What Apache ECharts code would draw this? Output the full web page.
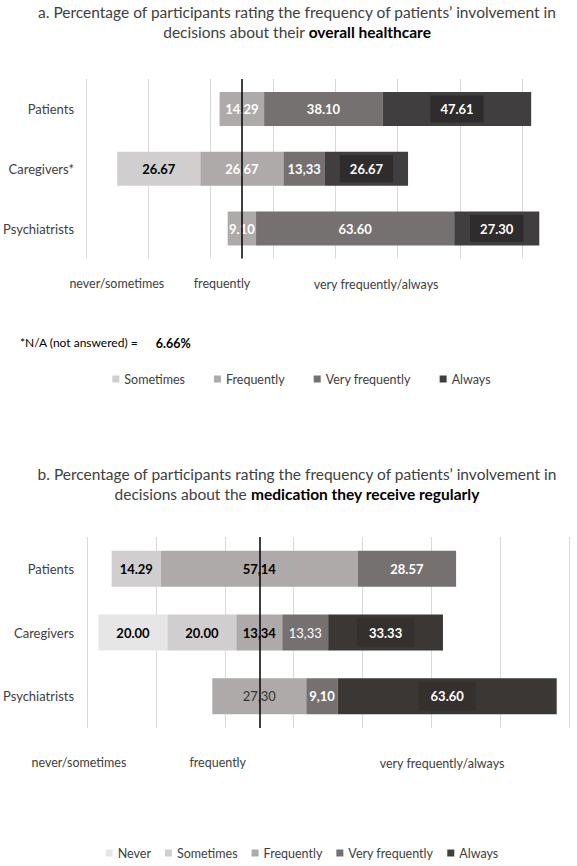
<!DOCTYPE html>
<html>
<head>
<meta charset="utf-8">
<script src="https://cdn.jsdelivr.net/npm/echarts@6/dist/echarts.min.js"></script>
<style>
html,body{margin:0;padding:0;background:#fff;}
#chart{width:577px;height:866px;}
</style>
</head>
<body>
<div id="chart"></div>
<script>
// ---------- data ----------
const categoriesA = ['Patients', 'Caregivers*', 'Psychiatrists'];
const aSometimes      = [null, 26.67, null];
const aFrequently     = [14.29, 26.67, 9.10];
const aVeryFrequently = [38.10, 13.33, 63.60];
const aAlways         = [47.61, 26.67, 27.30];
const aSometimesText      = ['', '26.67', ''];
const aFrequentlyText     = ['14.29', '26,67', '9.10'];
const aVeryFrequentlyText = ['38.10', '13,33', '63.60'];
const aAlwaysText         = ['47.61', '26.67', '27.30'];

const categoriesB = ['Patients', 'Caregivers', 'Psychiatrists'];
const bNever          = [null, 20.00, null];
const bSometimes      = [14.29, 20.00, null];
const bFrequently     = [57.14, 13.34, 27.30];
const bVeryFrequently = [28.57, 13.33, 9.10];
const bAlways         = [null, 33.33, 63.60];
const bNeverText          = ['', '20.00', ''];
const bSometimesText      = ['14.29', '20.00', ''];
const bFrequentlyText     = ['57,14', '13,34', '27,30'];
const bVeryFrequentlyText = ['28.57', '13,33', '9,10'];
const bAlwaysText         = ['', '33.33', '63.60'];

const centreValue = 50;          // the "frequently" midpoint marked by the vertical line
const axisMaxA = 150, axisMaxB = 140, axisStep = 20;

const scaleLabels = ['never/sometimes', 'frequently', 'very frequently/always'];
const naNote = '*N/A (not answered) =';
const naValue = '6.66%';

// ---------- helpers ----------
const FONT = 'Lato, "Open Sans", sans-serif';
const C = {
  never: '#E7E6E6', sometimes: '#D0CECE', frequently: '#AEAAAA',
  very: '#767171', alwaysA: '#403E3E', alwaysB: '#3B3735'
};
const n = v => (v == null ? 0 : v);
function offsets(nev, som, fre) {
  return fre.map((f, i) => +(centreValue - n(nev ? nev[i] : 0) - n(som[i]) - n(f) / 2).toFixed(3));
}
function seg(name, values, texts, color, stack, axisIdx, barW, labelColor, extra) {
  return {
    name, type: 'bar', stack, xAxisIndex: axisIdx, yAxisIndex: axisIdx,
    barWidth: barW, itemStyle: { color },
    data: values.map((v, i) => {
      const d = { value: v };
      if (extra && extra[i]) d.label = extra[i];
      return d;
    }),
    label: Object.assign({
      show: true, position: 'inside', fontFamily: FONT, fontSize: 13, fontWeight: 'bold',
      color: labelColor,
      formatter: p => texts[p.dataIndex]
    }, (extra && extra.base) || {})
  };
}
function offsetSeries(values, stack, axisIdx, barW) {
  return {
    name: 'offset' + stack, type: 'bar', stack, xAxisIndex: axisIdx, yAxisIndex: axisIdx,
    barWidth: barW, silent: true, itemStyle: { color: 'rgba(0,0,0,0)' }, data: values,
    label: { show: false }, tooltip: { show: false },
    markLine: {
      silent: true, symbol: ['none', 'none'], label: { show: false },
      lineStyle: { color: '#000', width: 1.5, type: 'solid' },
      data: [{ xAxis: centreValue }], animation: false
    }
  };
}
const boxA = { base: { backgroundColor: '#2E2C2C', padding: [7, 10] } };
const boxB = { base: { backgroundColor: '#34302E', padding: [8, 12] } };

const offA = offsets(null, aSometimes, aFrequently);
const offB = offsets(bNever, bSometimes, bFrequently);

const xAxisBase = (max, showMax) => ({
  type: 'value', min: 0, max, interval: axisStep,
  axisLabel: { show: false }, axisTick: { show: false }, axisLine: { show: false },
  splitLine: { show: true, showMaxLine: showMax, lineStyle: { color: '#D9D9D9', width: 1 } }
});
const yAxisBase = (cats, gi, margin) => ({
  type: 'category', gridIndex: gi, data: cats, inverse: true,
  axisLine: { show: false }, axisTick: { show: false },
  axisLabel: { fontFamily: FONT, fontSize: 13, color: '#404040', margin }
});

const txt = (text, x, y, opts) => ({
  type: 'text', x, y,
  style: Object.assign({ text, font: '12.5px ' + FONT, fill: '#404040', textAlign: 'center', textVerticalAlign: 'middle' }, opts || {})
});
const title = (text, y) => ({
  type: 'text', x: 297, y,
  style: {
    text, fill: '#404040', font: '15.5px ' + FONT, textAlign: 'center', textVerticalAlign: 'top',
    lineHeight: 20,
    rich: { b: { fontWeight: 'bold', fontFamily: FONT, fontSize: 15.5, fill: '#000' } }
  }
});
const legendText = { fontFamily: FONT, fontSize: 12.5, color: '#404040' };

const option = {
  animation: false,
  grid: [
    { left: 81.7, top: 79, width: axisMaxA * 3.145, height: 179.5 },
    { left: 83.9, top: 537, width: axisMaxB * 3.467, height: 191 }
  ],
  xAxis: [Object.assign(xAxisBase(axisMaxA, false), { gridIndex: 0 }),
          Object.assign(xAxisBase(axisMaxB, true), { gridIndex: 1 })],
  yAxis: [yAxisBase(categoriesA, 0, 12), yAxisBase(categoriesB, 1, 13)],
  legend: [
    { data: ['Sometimes', 'Frequently', 'Very frequently', 'Always'], left: 107.3, top: 367.5,
      icon: 'rect', itemWidth: 7, itemHeight: 7, itemGap: 29, selectedMode: false, textStyle: legendText },
    { data: ['Never', 'Sometimes', 'Frequently', 'Very frequently', 'Always'], left: 100.7, top: 841.5,
      icon: 'rect', itemWidth: 7, itemHeight: 7, itemGap: 14, selectedMode: false, textStyle: legendText }
  ],
  series: [
    offsetSeries(offA, 'a', 0, 34),
    seg('Sometimes', aSometimes, aSometimesText, C.sometimes, 'a', 0, 34, '#000'),
    seg('Frequently', aFrequently, aFrequentlyText, C.frequently, 'a', 0, 34, '#fff'),
    seg('Very frequently', aVeryFrequently, aVeryFrequentlyText, C.very, 'a', 0, 34, '#fff'),
    seg('Always', aAlways, aAlwaysText, C.alwaysA, 'a', 0, 34, '#fff', boxA),

    offsetSeries(offB, 'b', 1, 36),
    seg('Never', bNever, bNeverText, C.never, 'b', 1, 36, '#000'),
    seg('Sometimes', bSometimes, bSometimesText, C.sometimes, 'b', 1, 36, '#000'),
    seg('Frequently', bFrequently, bFrequentlyText, C.frequently, 'b', 1, 36, '#000',
        { 2: { fontWeight: 'normal', color: '#333' } }),
    seg('Very frequently', bVeryFrequently, bVeryFrequentlyText, C.very, 'b', 1, 36, '#fff',
        { 1: { fontWeight: 'normal' } }),
    seg('Always', bAlways, bAlwaysText, C.alwaysB, 'b', 1, 36, '#fff', boxB)
  ],
  graphic: [
    title('a. Percentage of participants rating the frequency of patients\u2019 involvement in\ndecisions about their {b|overall healthcare}', 2),
    txt(scaleLabels[0], 116.8, 283),
    txt(scaleLabels[1], 222, 283),
    txt(scaleLabels[2], 376, 284),
    txt(naNote, 20, 342, { textAlign: 'left', font: '12px ' + FONT, fill: '#000' }),
    txt(naValue, 155.7, 343, { textAlign: 'left', font: 'bold 12.5px ' + FONT, fill: '#000' }),
    title('b. Percentage of participants rating the frequency of patients\u2019 involvement in\ndecisions about the {b|medication they receive regularly}', 464),
    txt(scaleLabels[0], 78.9, 762),
    txt(scaleLabels[1], 217.7, 762),
    txt(scaleLabels[2], 442, 763)
  ]
};

const chart = echarts.init(document.getElementById('chart'), null, { renderer: 'svg' });
chart.setOption(option);
</script>
</body>
</html>
